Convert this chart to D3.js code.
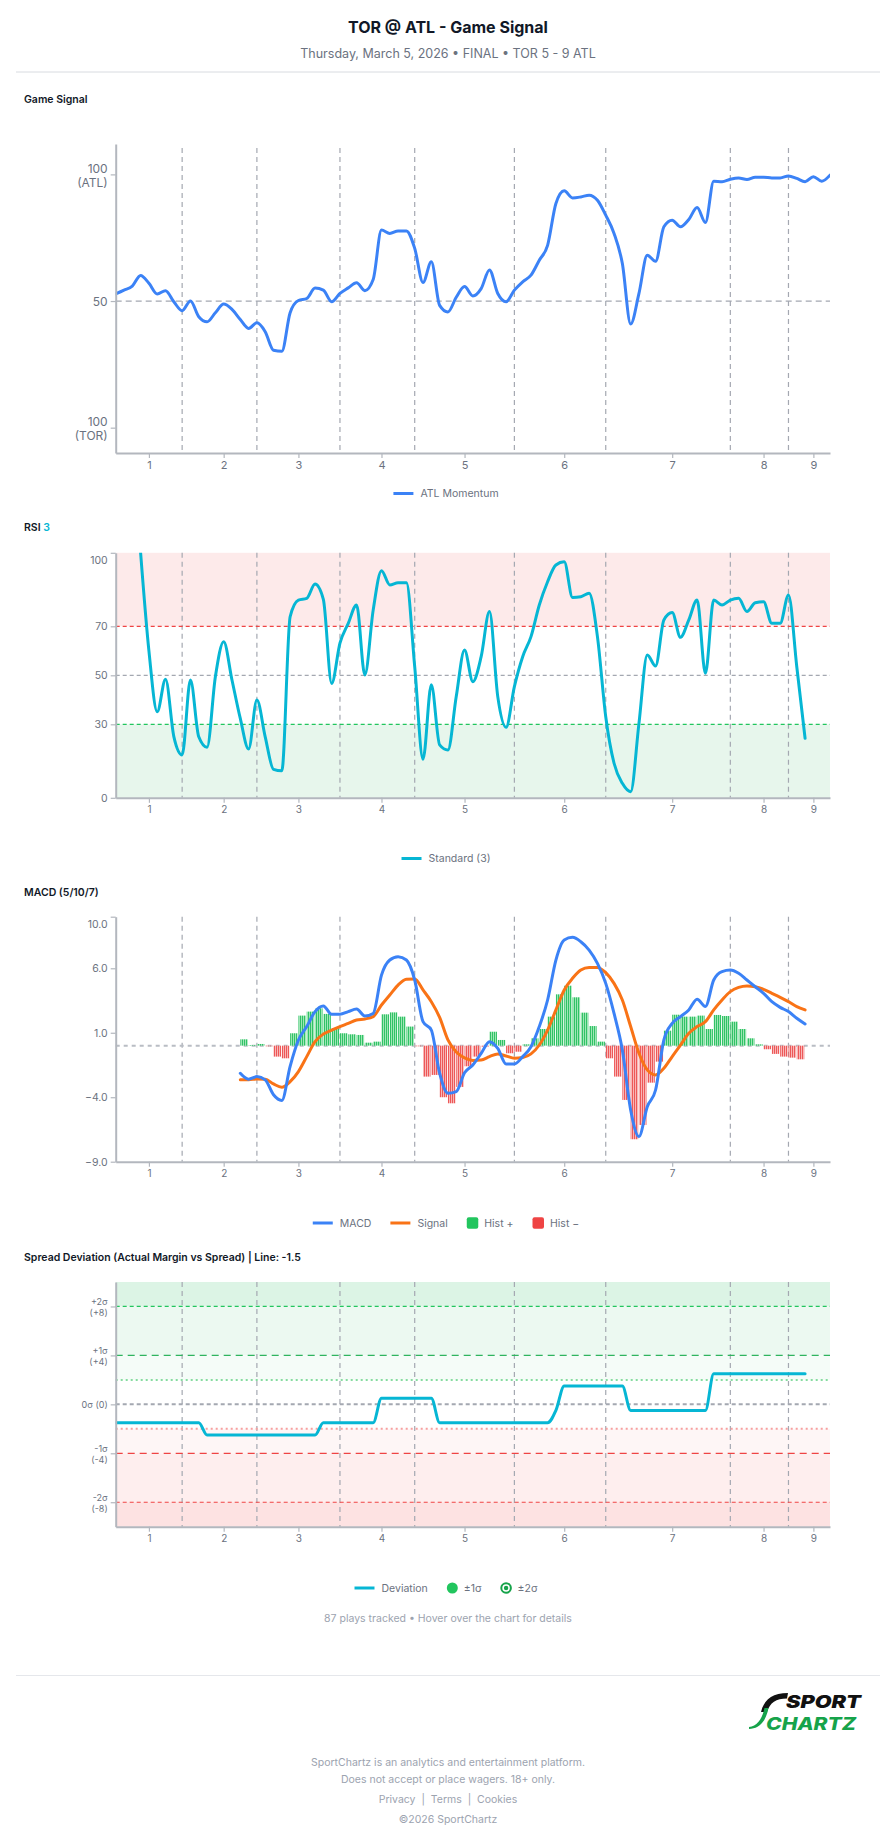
<!DOCTYPE html>
<html lang="en">
<head>
<meta charset="utf-8">
<title>TOR @ ATL - Game Signal</title>
<style>
  body { margin: 0; background: #fff; }
  svg text { font-family: Inter, "Noto Sans", sans-serif; }
</style>
</head>
<body>
<svg id="page" width="896" height="1845"></svg>
<script src="https://cdn.jsdelivr.net/npm/d3@7"></script>
<script>

// ---- data (play index on x) ----
var inningBreaks = [8, 17, 27, 36, 48, 59, 74, 81];
var inningTicks  = [4, 13, 22, 32, 42, 54, 67, 78, 84];
var inningLabels = ["1", "2", "3", "4", "5", "6", "7", "8", "9"];

// ATL momentum, 0 = TOR 100, 100 = ATL 100
var momentum = [52.8,54.3,55.9,60.1,57.0,52.8,54.1,49.7,46.2,50.0,
  43.8,41.8,45.4,48.8,46.7,42.7,39.2,41.4,37.9,30.6,
  30.2,45.4,50.2,51.0,55.1,54.3,49.7,53.0,55.2,57.2,
  54.1,58.5,78.0,76.7,77.7,77.7,70.8,57.3,65.5,48.3,
  45.7,51.5,55.7,52.0,54.9,62.3,53.0,49.7,54.3,57.6,
  60.2,66.1,72.0,88.5,93.5,90.7,91.1,91.8,89.8,83.9,
  76.7,64.8,40.9,53.0,68.1,65.7,79.3,81.9,79.3,82.2,
  86.9,81.0,97.3,97.1,98.1,98.6,98.0,98.9,98.9,98.6,
  98.6,99.4,98.4,97.1,99.1,97.3,99.7];

var rsiStart = 3;
var rsi = [100,60,35.1,48.4,25,17.5,48.1,24.9,20.6,49.4,
  63.7,48.1,32.4,19.9,39.9,24.9,11.6,11.0,73.9,80.7,
  81.4,87.3,81.0,46.7,63.1,71.2,78.7,50.1,76.6,92.7,
  86.9,87.8,87.8,53.5,15.7,46.1,21.6,19.5,41.3,60.3,
  47.4,57.6,76.0,41.3,28.8,45.4,57.6,65.8,78.7,88.2,
  95.0,96.3,81.8,82.1,83.5,65.8,33.1,14.1,5.9,2.5,
  30.4,58.3,53.8,72.6,75.6,65.5,72.6,80.7,50.8,80.7,
  78.7,80.7,81.4,76.0,79.6,80.0,71.2,71.2,82.8,53.5,
  24.3];
var rsiLevels = [30, 50, 70];

var macdStart = 15;
var macd = [-2.14,-2.6,-2.4,-2.65,-3.81,-4.25,-1.6,0.44,1.48,2.64,
  3.08,2.43,2.43,2.64,2.84,2.3,2.5,5.47,6.64,6.9,
  6.64,5.09,1.86,1.21,-2.14,-3.69,-3.56,-2.1,-1.5,-0.6,
  0.31,-0.21,-1.42,-1.42,-0.85,-0.08,1.48,3.54,6.64,8.19,
  8.4,8.06,7.41,6.38,4.83,2.5,-0.34,-4.99,-7.05,-4.73,
  -3.44,0.44,1.73,2.25,2.77,3.6,3.04,5.09,5.74,5.86,
  5.61,5.09,4.57,4.06,3.41,2.97,2.64,2.12,1.68];
var signal = [-2.65,-2.65,-2.58,-2.6,-2.97,-3.23,-2.79,-2.01,-0.85,0.31,
  0.9,1.21,1.48,1.73,1.99,2.07,2.25,3.15,3.93,4.7,
  5.14,5.17,4.32,3.41,2.2,0.45,-0.5,-0.95,-1.15,-1.12,
  -0.85,-0.65,-0.8,-0.98,-0.92,-0.64,0.05,1.21,2.77,4.32,
  5.22,5.86,6.07,6.07,5.66,4.83,3.54,1.48,-0.59,-1.88,
  -2.27,-1.75,-0.85,0.05,0.96,1.48,1.86,2.77,3.54,4.19,
  4.52,4.63,4.57,4.37,4.06,3.75,3.41,3.02,2.77];
var hist = [0.49,0.05,0.13,-0.05,-0.85,-0.98,0.96,2.33,2.64,2.9,
  2.46,1.34,0.96,0.88,0.83,0.23,0.31,2.43,2.58,2.25,
  1.48,-0.05,-2.4,-2.27,-4.0,-4.47,-3.2,-1.6,-0.85,-0.08,
  1.08,0.44,-0.59,-0.47,0.1,0.57,1.29,2.25,3.98,4.65,
  3.75,2.56,1.52,0.31,-0.98,-2.4,-4.21,-7.26,-6.15,-2.87,
  -1.24,1.16,2.4,2.25,2.25,2.33,1.29,2.38,2.3,1.86,
  1.29,0.57,0.1,-0.28,-0.64,-0.85,-0.93,-1.06];
var macdTicks = [-9, -4, 1, 6, 10];

// actual margin minus spread, sigma = 4 points
var deviation = [-1.5,-1.5,-1.5,-1.5,-1.5,-1.5,-1.5,-1.5,-1.5,-1.5,
  -1.5,-2.5,-2.5,-2.5,-2.5,-2.5,-2.5,-2.5,-2.5,-2.5,
  -2.5,-2.5,-2.5,-2.5,-2.5,-1.5,-1.5,-1.5,-1.5,-1.5,
  -1.5,-1.5,0.5,0.5,0.5,0.5,0.5,0.5,0.5,-1.5,
  -1.5,-1.5,-1.5,-1.5,-1.5,-1.5,-1.5,-1.5,-1.5,-1.5,
  -1.5,-1.5,-1.5,-0.5,1.5,1.5,1.5,1.5,1.5,1.5,
  1.5,1.5,-0.5,-0.5,-0.5,-0.5,-0.5,-0.5,-0.5,-0.5,
  -0.5,-0.5,2.5,2.5,2.5,2.5,2.5,2.5,2.5,2.5,
  2.5,2.5,2.5,2.5];
var sigmaTicks  = [-8, -4, 0, 4, 8];
var sigmaLabels = [["-2σ", "(-8)"], ["-1σ", "(-4)"], ["0σ (0)"], ["+1σ", "(+4)"], ["+2σ", "(+8)"]];

// ---- page ----
var svg = d3.select("#page");
svg.append("rect").attr("width", 896).attr("height", 1845).attr("fill", "#fff");
var defs = svg.append("defs");

var plotL = 115.7, plotR = 830;
var x = d3.scaleLinear().domain([0, momentum.length - 1]).range([plotL, plotR]);
var GRID = "#a4a8b1", AXIS = "#b3b7be", TICKTXT = "#6b7280";

svg.append("text").attr("x", 448).attr("y", 33).attr("text-anchor", "middle")
  .attr("font-size", 16).attr("font-weight", 700).attr("fill", "#111827")
  .text("TOR @ ATL - Game Signal");
svg.append("text").attr("x", 448).attr("y", 57.5).attr("text-anchor", "middle")
  .attr("font-size", 12.5).attr("fill", "#6b7280")
  .text("Thursday, March 5, 2026 • FINAL • TOR 5 - 9 ATL");
svg.append("line").attr("x1", 16).attr("x2", 880).attr("y1", 72).attr("y2", 72)
  .attr("stroke", "#d8dbe0").attr("stroke-width", 1);

function sectionTitle(y, parts) {
  var t = svg.append("text").attr("x", 24).attr("y", y).attr("font-size", 10.5)
    .attr("font-weight", 600).attr("fill", "#111827");
  parts.forEach(function(p) {
    t.append("tspan").attr("fill", p[1] || "#111827").text(p[0]);
  });
}

function panel(name, top, bottom, domain) {
  var y = d3.scaleLinear().domain(domain).range([bottom, top]);
  defs.append("clipPath").attr("id", "clip-" + name).append("rect")
    .attr("x", plotL).attr("y", top).attr("width", plotR - plotL).attr("height", bottom - top);
  var g = svg.append("g");
  var p = { y: y, top: top, bottom: bottom };
  p.back = g.append("g");
  p.grid = g.append("g");
  p.marks = g.append("g").attr("clip-path", "url(#clip-" + name + ")");
  p.axes = g.append("g");
  return p;
}

function band(p, from, to, fill) {
  p.back.append("rect").attr("x", plotL).attr("width", plotR - plotL)
    .attr("y", p.y(to)).attr("height", p.y(from) - p.y(to)).attr("fill", fill);
}

function hline(p, v, color, dash, width) {
  p.grid.append("line").attr("x1", plotL).attr("x2", plotR)
    .attr("y1", p.y(v)).attr("y2", p.y(v))
    .attr("stroke", color).attr("stroke-width", width || 1.2).attr("stroke-dasharray", dash);
}

function innings(p, top) {
  p.grid.append("g").selectAll("line").data(inningBreaks).join("line")
    .attr("x1", function(d) { return x(d); }).attr("x2", function(d) { return x(d); })
    .attr("y1", top || p.top).attr("y2", p.bottom)
    .attr("stroke", GRID).attr("stroke-width", 1.2).attr("stroke-dasharray", "5,4");
}

function styleAxis(a, size) {
  a.attr("font-family", null).attr("font-size", null);
  a.select(".domain").attr("stroke", AXIS).attr("stroke-width", 2);
  a.selectAll(".tick line").attr("stroke", AXIS).attr("stroke-width", 1.2);
  a.selectAll(".tick text").attr("fill", TICKTXT).attr("font-size", size);
}

function xAxis(p, size) {
  p.axes.append("g").attr("transform", "translate(0," + p.bottom + ")")
    .call(d3.axisBottom(x).tickValues(inningTicks)
      .tickFormat(function(d, i) { return inningLabels[i]; })
      .tickSize(5).tickSizeOuter(0))
    .call(styleAxis, size);
}

function yAxis(p, ticks, fmt, size) {
  return p.axes.append("g").attr("transform", "translate(" + plotL + ",0)")
    .call(d3.axisLeft(p.y).tickValues(ticks).tickFormat(fmt).tickSize(5).tickSizeOuter(0))
    .call(styleAxis, size);
}

function twoLine(a, labels, size, up, down) {
  a.selectAll(".tick text").each(function(d, i) {
    var t = d3.select(this).text(null).attr("dy", null);
    var lines = labels[i];
    if (lines.length === 1) {
      t.append("tspan").attr("x", -8).attr("y", size * 0.35).text(lines[0]);
    } else {
      t.append("tspan").attr("x", -8).attr("y", -up + size * 0.35).text(lines[0]);
      t.append("tspan").attr("x", -8).attr("y", down + size * 0.35).text(lines[1]);
    }
  });
}

function seriesLine(p, values, start, color) {
  var line = d3.line()
    .x(function(d, i) { return x(start + i); })
    .y(function(d) { return p.y(d); })
    .curve(d3.curveMonotoneX);
  p.marks.append("path").datum(values).attr("d", line)
    .attr("fill", "none").attr("stroke", color).attr("stroke-width", 3)
    .attr("stroke-linejoin", "round").attr("stroke-linecap", "round");
}

function legend(cy, items) {
  var g = svg.append("g");
  var cx = 0;
  items.forEach(function(it) {
    var sw;
    if (it.type === "line") {
      sw = 20;
      g.append("line").attr("x1", cx).attr("x2", cx + sw).attr("y1", cy).attr("y2", cy)
        .attr("stroke", it.color).attr("stroke-width", 3);
    } else if (it.type === "square") {
      sw = 11.5;
      g.append("rect").attr("x", cx).attr("y", cy - 5.75).attr("width", sw).attr("height", sw)
        .attr("rx", 2).attr("fill", it.color);
    } else if (it.type === "dot") {
      sw = 11;
      g.append("circle").attr("cx", cx + 5.5).attr("cy", cy).attr("r", 5.5).attr("fill", it.color);
    } else {
      sw = 11;
      g.append("circle").attr("cx", cx + 5.5).attr("cy", cy).attr("r", 4.8)
        .attr("fill", "#fff").attr("stroke", it.color).attr("stroke-width", 2);
      g.append("circle").attr("cx", cx + 5.5).attr("cy", cy).attr("r", 2.2).attr("fill", it.color);
    }
    var gap = it.type === "line" ? 7 : 6;
    var t = g.append("text").attr("x", cx + sw + gap).attr("y", cy + 3.8)
      .attr("font-size", 10.5).attr("fill", TICKTXT).text(it.label);
    cx += sw + gap + t.node().getComputedTextLength() + 19;
  });
  g.attr("transform", "translate(" + (446 - (cx - 19) / 2) + ",0)");
}

// ---- 1. Game Signal ----
sectionTitle(103, [["Game Signal"]]);
var p1 = panel("sig", 144, 453, [-10, 112]);
innings(p1, 148);
hline(p1, 50, GRID, "6,4", 1.3);
seriesLine(p1, momentum, 0, "#3b82f6");
xAxis(p1, 11);
var a1 = yAxis(p1, [0, 50, 100], null, 12);
twoLine(a1, [["100", "(TOR)"], ["50"], ["100", "(ATL)"]], 12, 6.5, 7.5);
legend(493.5, [{ type: "line", color: "#3b82f6", label: "ATL Momentum" }]);

// ---- 2. RSI ----
sectionTitle(531, [["RSI "], ["3", "#06b6d4"]]);
var p2 = panel("rsi", 552.8, 797.8, [0, 100]);
band(p2, 70, 100, "#fdeaea");
band(p2, 0, 30, "#e7f6ec");
innings(p2);
hline(p2, rsiLevels[2], "#ef4444", "4,3");
hline(p2, rsiLevels[1], GRID, "4,3");
hline(p2, rsiLevels[0], "#22c55e", "4,3");
seriesLine(p2, rsi, rsiStart, "#06b6d4");
xAxis(p2, 10);
var a2 = yAxis(p2, [0, 30, 50, 70, 100], d3.format("d"), 10.5);
a2.selectAll(".tick text").filter(function(d) { return d === 100; }).attr("dy", "1.05em");
legend(858.5, [{ type: "line", color: "#06b6d4", label: "Standard (3)" }]);

// ---- 3. MACD ----
sectionTitle(896, [["MACD (5/10/7)"]]);
var p3 = panel("macd", 916.7, 1161.7, [-9, 10]);
innings(p3);
function stripes(id, base, line) {
  var pt = defs.append("pattern").attr("id", id).attr("patternUnits", "userSpaceOnUse")
    .attr("width", 2).attr("height", 4);
  pt.append("rect").attr("width", 2).attr("height", 4).attr("fill", base);
  pt.append("rect").attr("width", 1).attr("height", 4).attr("fill", line);
}
stripes("histPos", "#9fe6b5", "#30c266");
stripes("histNeg", "#f8b6b6", "#ed5858");
p3.marks.append("g").selectAll("rect").data(hist).join("rect")
  .attr("x", function(d, i) { return x(macdStart + i); })
  .attr("width", function(d, i) { return x(macdStart + i + 1) - x(macdStart + i) - 0.8; })
  .attr("y", function(d) { return Math.min(p3.y(0), p3.y(d)); })
  .attr("height", function(d) { return Math.abs(p3.y(d) - p3.y(0)); })
  .attr("fill", function(d) { return d >= 0 ? "url(#histPos)" : "url(#histNeg)"; });
hline(p3, 0, "#b9bdc4", "4,4", 2);
seriesLine(p3, signal, macdStart, "#f97316");
seriesLine(p3, macd, macdStart, "#3b82f6");
xAxis(p3, 10);
var a3 = yAxis(p3, macdTicks, d3.format(".1f"), 10.5);
a3.selectAll(".tick text").filter(function(d) { return d === 10; }).attr("dy", "1.05em");
legend(1223, [
  { type: "line", color: "#3b82f6", label: "MACD" },
  { type: "line", color: "#f97316", label: "Signal" },
  { type: "square", color: "#22c55e", label: "Hist +" },
  { type: "square", color: "#ef4444", label: "Hist −" }
]);

// ---- 4. Spread deviation ----
sectionTitle(1261, [["Spread Deviation (Actual Margin vs Spread) | Line: -1.5"]]);
var p4 = panel("dev", 1282, 1526.7, [-10, 10]);
band(p4, 8, 10, "#dcf4e5");
band(p4, 4, 8, "#ecf9f1");
band(p4, 2, 4, "#f5fcf8");
band(p4, -4, -2, "#fef6f6");
band(p4, -8, -4, "#feeeee");
band(p4, -10, -8, "#fde2e2");
innings(p4);
hline(p4, 8, "#22c55e", "4,3");
hline(p4, 4, "#2fb45f", "7,5");
hline(p4, 2, "#86dca0", "2,3", 2);
hline(p4, 0, "#a4a8b1", "4,3", 2);
hline(p4, -2, "#f6a0a0", "2,3", 2);
hline(p4, -4, "#ef4444", "7,5");
hline(p4, -8, "#ef4444", "4,3");
seriesLine(p4, deviation, 0, "#06b6d4");
xAxis(p4, 10);
var a4 = yAxis(p4, sigmaTicks, null, 9);
twoLine(a4, sigmaLabels, 9, 5, 6);
legend(1588, [
  { type: "line", color: "#06b6d4", label: "Deviation" },
  { type: "dot", color: "#22c55e", label: "±1σ" },
  { type: "ring", color: "#16a34a", label: "±2σ" }
]);

svg.append("text").attr("x", 448).attr("y", 1622).attr("text-anchor", "middle")
  .attr("font-size", 10.5).attr("fill", "#9ca3af")
  .text("87 plays tracked • Hover over the chart for details");

// ---- footer ----
svg.append("line").attr("x1", 16).attr("x2", 880).attr("y1", 1675.5).attr("y2", 1675.5)
  .attr("stroke", "#e5e7eb");
var logo = svg.append("g");
logo.append("path").attr("d", "M788,1693 C772,1693 764,1700 761,1712 L767,1712 C770,1702.5 776,1698.5 787,1698.5 Z")
  .attr("fill", "#111");
logo.append("path").attr("d", "M749,1727 C757,1726.5 762,1719.5 764.5,1708 L768.5,1708 C766,1721.5 759,1729 749,1729 Z")
  .attr("fill", "#16a34a");
logo.append("text").attr("x", 786).attr("y", 1708).attr("font-size", 17.5).attr("font-weight", 900)
  .attr("font-style", "italic").attr("fill", "#111")
  .attr("textLength", 75).attr("lengthAdjust", "spacingAndGlyphs").text("SPORT");
logo.append("text").attr("x", 766).attr("y", 1729.5).attr("font-size", 17.5).attr("font-weight", 800)
  .attr("font-style", "italic").attr("fill", "#16a34a")
  .attr("textLength", 90).attr("lengthAdjust", "spacingAndGlyphs").text("CHARTZ");

var footLines = [
  [1766, "SportChartz is an analytics and entertainment platform."],
  [1783, "Does not accept or place wagers. 18+ only."],
  [1803, "Privacy  |  Terms  |  Cookies"],
  [1823, "©2026 SportChartz"]
];
svg.append("g").selectAll("text").data(footLines).join("text")
  .attr("x", 448).attr("y", function(d) { return d[0]; }).attr("text-anchor", "middle")
  .attr("font-size", 10.5).attr("fill", "#9ca3af").attr("xml:space", "preserve")
  .text(function(d) { return d[1]; });

</script>
</body>
</html>
